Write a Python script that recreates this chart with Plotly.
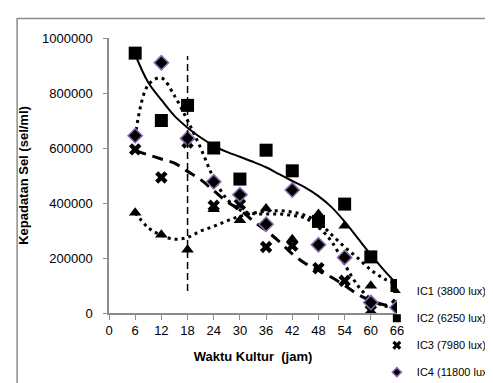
import plotly.graph_objects as go

# ---- data ----
hours = [6, 12, 18, 24, 30, 36, 42, 48, 54, 60, 66]
ic1 = [365000, 285000, 230000, 377000, 337000, 380000, 268000, 360000, 317000, 99000, 100000]
ic2 = [945000, 700000, 755000, 600000, 487000, 592000, 517000, 333000, 396000, 204000, 100000]
ic3 = [595000, 493000, 620000, 390000, 395000, 240000, 245000, 163000, 117000, 10000, 30000]
ic4 = [645000, 910000, 635000, 477000, 430000, 323000, 447000, 248000, 202000, 38000, 20000]
names = ["IC1 (3800 lux)", "IC2 (6250 lux)", "IC3 (7980 lux)", "IC4 (11800 lux)"]

# trendline values every 3 h
trend_hours = [6, 9, 12, 15, 18, 21, 24, 27, 30, 33, 36, 39, 42, 45, 48, 51, 54, 57, 60, 63, 66]
trend_ic1 = [365000, 310000, 283000, 268000, 275000, 298000, 315000, 335000, 352000, 363000, 370000,
             372000, 367000, 355000, 330000, 285000, 240000, 200000, 157000, 125000, 105000]
trend_ic2 = [940000, 838000, 775000, 717000, 674000, 638000, 608000, 586000, 568000, 550000, 530000,
             505000, 480000, 456000, 425000, 385000, 332000, 272000, 212000, 156000, 105000]
trend_ic3 = [590000, 575000, 560000, 545000, 515000, 485000, 445000, 405000, 375000, 335000, 300000,
             260000, 215000, 180000, 155000, 130000, 100000, 68000, 45000, 30000, 22000]
trend_ic4 = [640000, 830000, 855000, 790000, 700000, 600000, 490000, 415000, 375000, 362000, 360000,
             360000, 355000, 345000, 312000, 260000, 177000, 100000, 50000, 26000, 18000]

x_ticks = [0, 6, 12, 18, 24, 30, 36, 42, 48, 54, 60, 66]
y_ticks = [0, 200000, 400000, 600000, 800000, 1000000]
marker_line_x = 18

series = [ic1, ic2, ic3, ic4]
trends = [trend_ic1, trend_ic2, trend_ic3, trend_ic4]
symbols = ["triangle-up", "square", "x", "diamond"]
msizes = [11, 13, 11, 11]
lsizes = [7, 8, 8, 7]
mline = [dict(width=0), dict(width=0), dict(width=0), dict(width=1.5, color="#8a6bb0")]
dashes = ["3px,4px", "solid", "11px,7px", "3px,4px"]
lwidths = [3, 2, 3, 3]

FONT = "Liberation Sans, Arial, sans-serif"

fig = go.Figure()

for tr, dash, lw in zip(trends, dashes, lwidths):
    fig.add_trace(go.Scatter(x=trend_hours, y=tr, mode="lines",
                             line=dict(color="black", width=lw, dash=dash, shape="spline", smoothing=1.0),
                             showlegend=False, hoverinfo="skip"))

for vals, sym, ms, ml in zip(series, symbols, msizes, mline):
    fig.add_trace(go.Scatter(x=hours, y=vals, mode="markers",
                             marker=dict(symbol=sym, size=ms, color="black", line=ml),
                             showlegend=False))

for i, (nm, sym, ls, ml) in enumerate(zip(names, symbols, lsizes, mline)):
    fig.add_trace(go.Scatter(x=[None], y=[None], mode="markers", name=nm,
                             legendgroup=f"g{i}",
                             marker=dict(symbol=sym, size=ls, color="black", line=ml)))

# vertical dashed line at 18 h
fig.add_shape(type="line", xref="x", yref="y", x0=marker_line_x, x1=marker_line_x,
              y0=80000, y1=935000, line=dict(color="black", width=1.5, dash="7px,4px"))

# outer chart border (partly cut off)
fig.add_shape(type="rect", xref="paper", yref="paper", x0=-0.319, x1=1.5,
              y0=-0.5, y1=1.071, line=dict(color="#8c8c8c", width=1.5))

fig.update_layout(
    width=493, height=383,
    margin=dict(l=101, r=104, t=30, b=77.5, autoexpand=False),
    paper_bgcolor="white", plot_bgcolor="white",
    font=dict(family=FONT, size=13, color="black"),
    legend=dict(x=0.93, y=0.132, xanchor="left", yanchor="top",
                font=dict(family=FONT, size=11), tracegroupgap=8,
                itemwidth=30, bgcolor="rgba(0,0,0,0)"),
    xaxis=dict(range=[0, 66], tickvals=x_ticks, showgrid=False, zeroline=False,
               showline=True, linecolor="#8c8c8c", linewidth=1.5,
               ticks="outside", ticklen=5, tickcolor="#8c8c8c",
               title=dict(text="<b>Waktu Kultur  (jam)</b>", font=dict(size=13), standoff=15)),
    yaxis=dict(range=[0, 1000000], tickvals=y_ticks, tickformat="d", showgrid=False,
               zeroline=False, showline=True, linecolor="#8c8c8c", linewidth=1.5,
               ticks="outside", ticklen=4, tickcolor="#8c8c8c", ticklabelstandoff=8,
               title=dict(text="<b>Kepadatan Sel (sel/ml)</b>", font=dict(size=13), standoff=10)),
)

fig.write_html("out.html")
